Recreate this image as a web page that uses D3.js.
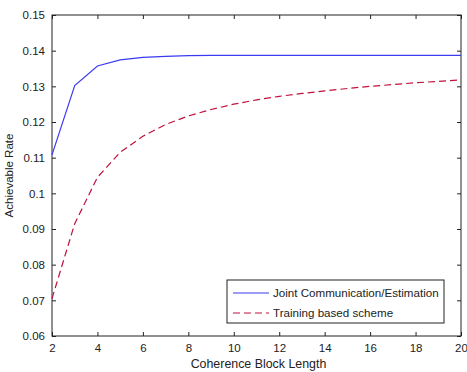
<!DOCTYPE html>
<html><head><meta charset="utf-8">
<script src="https://cdn.jsdelivr.net/npm/d3@7"></script>
<style>body{margin:0;background:#fff}svg{display:block}text{font-family:"Liberation Sans",Arial,sans-serif;fill:#222}</style>
</head><body>
<script>
const blockLength = [2,3,4,5,6,7,8,9,10,11,12,13,14,15,16,17,18,19,20];
const jointRate = [0.1108,0.1302,0.1357,0.1374,0.1381,0.1384,0.1386,0.1387,0.1387,0.1387,0.1387,0.1387,0.1387,0.1387,0.1387,0.1387,0.1387,0.1387,0.1387];
const trainingRate = [0.0705,0.0915,0.1045,0.1115,0.116,0.1193,0.1217,0.1235,0.125,0.1262,0.1272,0.128,0.1287,0.1294,0.13,0.1305,0.131,0.1314,0.1318];
const xTicks = [2,4,6,8,10,12,14,16,18,20];
const yTicks = [0.06,0.07,0.08,0.09,0.1,0.11,0.12,0.13,0.14,0.15];
const seriesNames = ["Joint Communication/Estimation","Training based scheme"];

const W=467,H=372, L=52,R=461,T=15,B=336;
const svg=d3.select("body").append("svg").attr("width",W).attr("height",H);
const x=d3.scaleLinear().domain([2,20]).range([L,R]);
const y=d3.scaleLinear().domain([0.06,0.15]).range([B,T]);
const fmt=d=>String(+d.toFixed(2));

svg.append("g").attr("transform",`translate(0,${B})`)
  .call(d3.axisBottom(x).tickValues(xTicks).tickSizeInner(-4).tickSizeOuter(0).tickPadding(8))
  .call(g=>{g.select(".domain").remove();g.selectAll("text").attr("font-size",11.5);});
svg.append("g").attr("transform",`translate(0,${T})`)
  .call(d3.axisTop(x).tickValues(xTicks).tickSizeInner(-4).tickSizeOuter(0).tickFormat(""))
  .call(g=>g.select(".domain").remove());
svg.append("g").attr("transform",`translate(${L},0)`)
  .call(d3.axisLeft(y).tickValues(yTicks).tickSizeInner(-4).tickSizeOuter(0).tickPadding(7).tickFormat(fmt))
  .call(g=>{g.select(".domain").remove();g.selectAll("text").attr("font-size",11.5);});
svg.append("g").attr("transform",`translate(${R},0)`)
  .call(d3.axisRight(y).tickValues(yTicks).tickSizeInner(-4).tickSizeOuter(0).tickFormat(""))
  .call(g=>g.select(".domain").remove());
svg.selectAll(".tick line").attr("stroke","#222");
svg.append("rect").attr("x",L).attr("y",T).attr("width",R-L).attr("height",B-T)
  .attr("fill","none").attr("stroke","#222").attr("stroke-width",1);

const line=d3.line().x((d,i)=>x(blockLength[i])).y(d=>y(d));
svg.append("path").datum(jointRate).attr("d",line).attr("fill","none").attr("stroke","#3a3af0").attr("stroke-width",1.2);
svg.append("path").datum(trainingRate).attr("d",line).attr("fill","none").attr("stroke","#c0103c").attr("stroke-width",1.2).attr("stroke-dasharray","7,4");

// legend
const lg=svg.append("g");
lg.append("rect").attr("x",227).attr("y",280).attr("width",217).attr("height",43).attr("fill","#fff").attr("stroke","#222");
const rows=[{c:"#3a3af0",d:null,y:293},{c:"#c0103c",d:"7,4",y:313}];
rows.forEach((r,i)=>{
  lg.append("line").attr("x1",233).attr("x2",269).attr("y1",r.y).attr("y2",r.y).attr("stroke",r.c).attr("stroke-width",1.2).attr("stroke-dasharray",r.d);
  lg.append("text").attr("x",273).attr("y",r.y+4).attr("font-size",11.6).text(seriesNames[i]);
});

svg.append("text").attr("x",(L+R)/2+2).attr("y",368).attr("text-anchor","middle").attr("font-size",12.4).text("Coherence Block Length");
svg.append("text").attr("transform",`translate(13,${(T+B)/2}) rotate(-90)`).attr("text-anchor","middle").attr("font-size",11.5).text("Achievable Rate");
</script>
</body></html>
